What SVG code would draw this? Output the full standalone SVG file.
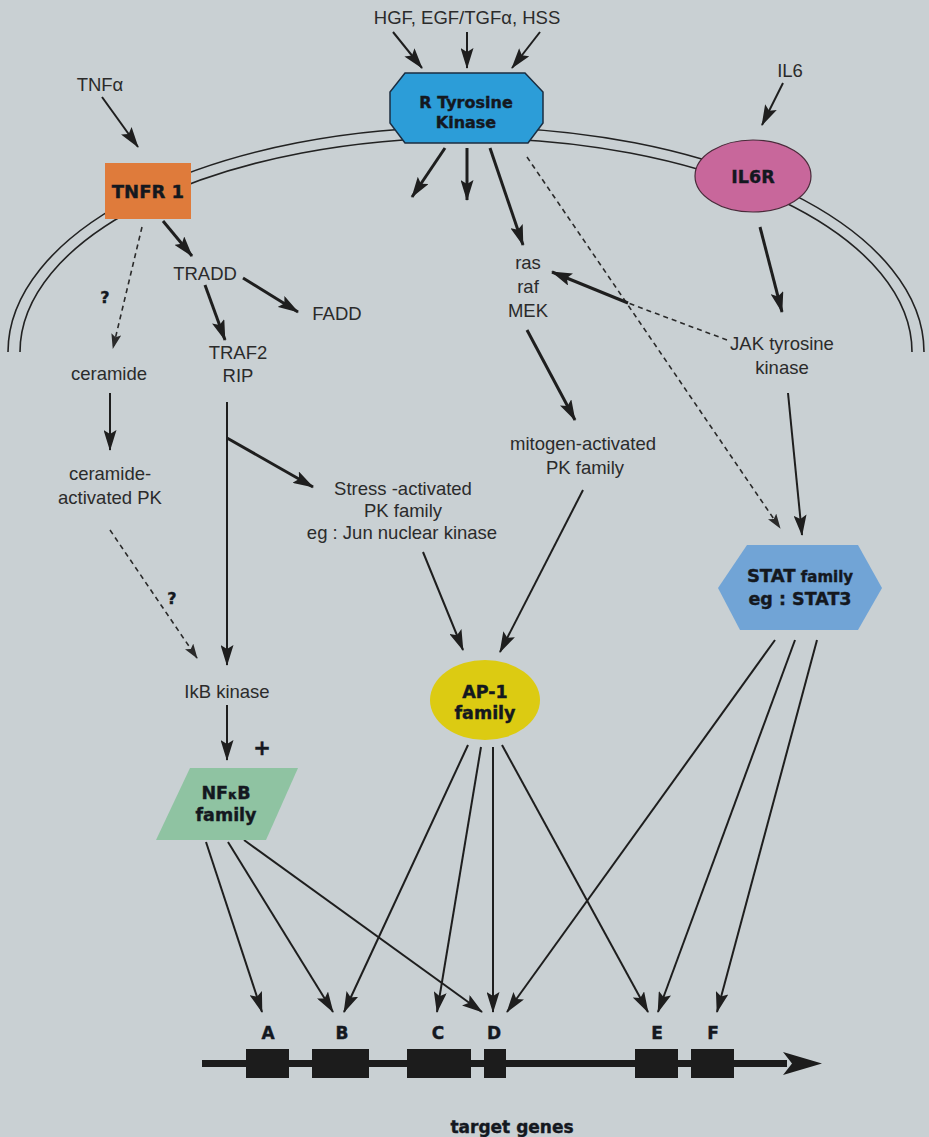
<svg xmlns="http://www.w3.org/2000/svg" width="929" height="1137" viewBox="0 0 929 1137">
<style>
.lbl{font-family:"Liberation Sans",Arial,sans-serif;font-size:18.5px;fill:#2b2b2b;text-anchor:middle}
.hv{font-family:"DejaVu Sans","Liberation Sans",sans-serif;font-weight:bold;fill:#14181f;text-anchor:middle;stroke:#14181f;stroke-width:0.4}
.c3{stroke:#1e1e1e;stroke-width:3;fill:none;marker-end:url(#ah)}
.c2{stroke:#1e1e1e;stroke-width:2;fill:none;marker-end:url(#ah)}
.cl{stroke:#1e1e1e;stroke-width:2;fill:none}
.dash{stroke:#2a2a2a;stroke-width:1.6;fill:none;stroke-dasharray:5 4}
.mem{stroke:#222;stroke-width:1.6;fill:none}
.exon{fill:#1c1c1c}
</style>
<defs>
<marker id="ah" markerUnits="userSpaceOnUse" markerWidth="21" markerHeight="13" refX="20" refY="6.5" orient="auto">
<path d="M0,0 L21,6.5 L0,13 L4,6.5 z" fill="#1e1e1e"/>
</marker>
<marker id="ahs" markerUnits="userSpaceOnUse" markerWidth="15" markerHeight="10" refX="14" refY="5" orient="auto">
<path d="M0,0 L15,5 L0,10 L3,5 z" fill="#2a2a2a"/>
</marker>
</defs>
<rect x="0" y="0" width="929" height="1137" fill="#c9d0d3"/>

<g id="membrane">
<path class="mem" d="M8,352 A458,225 0 0 1 924,352"/>
<path class="mem" d="M20,352 A446,214 0 0 1 912,352"/>
</g>

<g id="connectors">
<path class="c2" d="M102,97 L138,147"/>
<path class="c2" d="M393,32 L422,68"/>
<path class="c2" d="M467,32 L467,68"/>
<path class="c2" d="M540,32 L512,68"/>
<path class="c2" d="M783,83 L762,125"/>
<path class="c3" d="M163,221 L192,256"/>
<path class="c3" d="M243,278 L298,312"/>
<path class="c3" d="M205,285 L225,340"/>
<path class="cl" d="M227,402 L227,438"/>
<path class="c2" d="M227,438 L227,665"/>
<path class="c3" d="M227,438 L313,487"/>
<path class="dash" marker-end="url(#ahs)" d="M142,227 L113,348"/>
<path class="c2" d="M110,393 L110,450"/>
<path class="dash" marker-end="url(#ahs)" d="M110,530 L197,658"/>
<path class="c2" d="M227,705 L227,760"/>
<path class="c2" d="M423,552 L463,650"/>
<path class="c3" d="M445,148 L412,197"/>
<path class="c3" d="M467,148 L467,200"/>
<path class="c3" d="M490,148 L523,245"/>
<path class="dash" marker-end="url(#ahs)" d="M527,157 L780,528"/>
<path class="c3" d="M527,330 L575,420"/>
<path class="c2" d="M583,490 L500,652"/>
<path class="c3" d="M760,227 L782,312"/>
<path class="dash" d="M727,340 L628,303"/>
<path class="c3" d="M628,303 L552,272"/>
<path class="c2" d="M788,393 L802,535"/>
<path class="c2" d="M206,842 L262,1012"/>
<path class="c2" d="M228,842 L333,1012"/>
<path class="c2" d="M244,840 L482,1012"/>
<path class="c2" d="M468,745 L344,1012"/>
<path class="c2" d="M481,747 L437,1012"/>
<path class="c2" d="M493,747 L493,1012"/>
<path class="c2" d="M502,745 L648,1012"/>
<path class="c2" d="M775,640 L507,1012"/>
<path class="c2" d="M795,640 L658,1012"/>
<path class="c2" d="M817,640 L717,1012"/>
</g>

<g id="ligand-hgf"><text class="lbl" x="467" y="24" font-size="18">HGF, EGF/TGFα, HSS</text></g>
<g id="ligand-tnfa"><text class="lbl" x="100" y="91">TNFα</text></g>
<g id="ligand-il6"><text class="lbl" x="790" y="77">IL6</text></g>

<g id="tnfr1">
<rect x="105" y="163" width="86" height="56" fill="#df7b3b"/>
<text class="hv" x="148" y="198" font-size="18">TNFR 1</text>
</g>

<g id="rtk">
<polygon points="405,73 525,73 543,92 543,123 528,143 405,143 390,123 390,92" fill="#2c9dd8" stroke="#1b2d40" stroke-width="1.5"/>
<text class="hv" x="466" y="108" font-size="16">R Tyrosine</text>
<text class="hv" x="466" y="128" font-size="16">Kinase</text>
</g>

<g id="il6r">
<ellipse cx="753" cy="176" rx="58" ry="36" fill="#c8679b" stroke="#4a2a3a" stroke-width="1.2"/>
<text class="hv" x="753" y="183" font-size="17.5">IL6R</text>
</g>

<g id="tradd"><text class="lbl" x="205" y="280">TRADD</text></g>
<g id="fadd"><text class="lbl" x="337" y="320">FADD</text></g>
<g id="traf2"><text class="lbl" x="238" y="359">TRAF2</text><text class="lbl" x="238" y="382">RIP</text></g>
<g id="q1"><text class="hv" x="105" y="303" font-size="16">?</text></g>
<g id="ceramide"><text class="lbl" x="109" y="380">ceramide</text></g>
<g id="cerpk"><text class="lbl" x="110" y="480">ceramide-</text><text class="lbl" x="110" y="504">activated PK</text></g>
<g id="q2"><text class="hv" x="172" y="604" font-size="16">?</text></g>
<g id="stress">
<text class="lbl" x="403" y="495">Stress -activated</text>
<text class="lbl" x="403" y="517">PK family</text>
<text class="lbl" x="402" y="539" font-size="17.5">eg : Jun nuclear kinase</text>
</g>
<g id="ikb"><text class="lbl" x="227" y="698">IkB kinase</text></g>
<g id="plus"><text class="hv" x="262" y="755" font-size="21">+</text></g>

<g id="nfkb">
<polygon points="190,768 298,768 266,840 156,840" fill="#8fc3a2"/>
<text class="hv" x="226" y="799" font-size="17.5">NF<tspan font-size="13">κ</tspan>B</text>
<text class="hv" x="226" y="821" font-size="17.5">family</text>
</g>

<g id="ras"><text class="lbl" x="528" y="269">ras</text><text class="lbl" x="528" y="293">raf</text><text class="lbl" x="528" y="317">MEK</text></g>
<g id="mapk"><text class="lbl" x="583" y="450">mitogen-activated</text><text class="lbl" x="585" y="474">PK family</text></g>
<g id="jak"><text class="lbl" x="782" y="350">JAK tyrosine</text><text class="lbl" x="782" y="374">kinase</text></g>

<g id="ap1">
<ellipse cx="485" cy="700" rx="55" ry="40" fill="#dccb12"/>
<text class="hv" x="485" y="698" font-size="17.5">AP-1</text>
<text class="hv" x="485" y="719" font-size="17.5">family</text>
</g>

<g id="stat">
<polygon points="718,588 747,545 858,545 882,588 858,630 740,630" fill="#71a4d6"/>
<text class="hv" x="800" y="582" font-size="18">STAT<tspan font-size="15"> family</tspan></text>
<text class="hv" x="800" y="605" font-size="17.5">eg : STAT3</text>
</g>

<g id="genes">
<rect x="202" y="1060" width="585" height="7" fill="#1c1c1c"/>
<polygon points="783,1052 822,1063.5 783,1075 792,1063.5" fill="#1c1c1c"/>
<rect class="exon" x="246" y="1049" width="43" height="29"/>
<rect class="exon" x="312" y="1049" width="57" height="29"/>
<rect class="exon" x="407" y="1049" width="64" height="29"/>
<rect class="exon" x="484" y="1049" width="22" height="29"/>
<rect class="exon" x="635" y="1049" width="43" height="29"/>
<rect class="exon" x="691" y="1049" width="43" height="29"/>
<text class="hv" x="268" y="1039" font-size="17">A</text>
<text class="hv" x="342" y="1039" font-size="17">B</text>
<text class="hv" x="438" y="1039" font-size="17">C</text>
<text class="hv" x="494" y="1039" font-size="17">D</text>
<text class="hv" x="657" y="1039" font-size="17">E</text>
<text class="hv" x="713" y="1039" font-size="17">F</text>
<text class="hv" x="512" y="1133" font-size="17">target genes</text>
</g>
</svg>
